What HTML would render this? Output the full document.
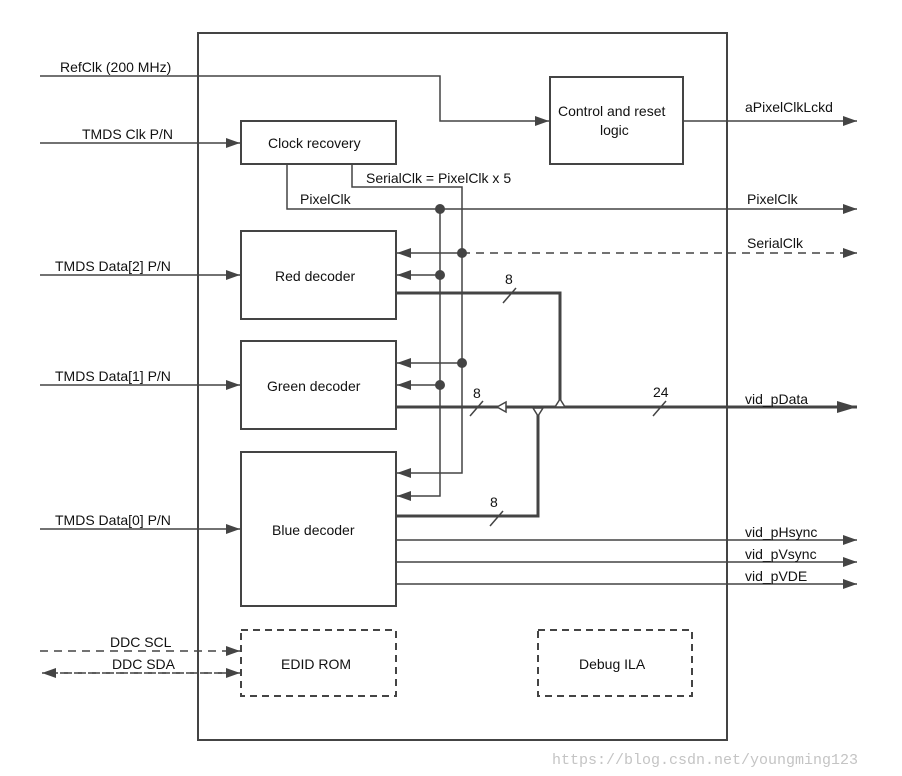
<!DOCTYPE html>
<html><head><meta charset="utf-8"><style>
html,body{margin:0;padding:0;background:#fff}
svg{display:block}
text{font-family:"Liberation Sans",Arial,sans-serif;font-size:14px;fill:#111}
</style></head><body>
<svg width="902" height="776" viewBox="0 0 902 776" xmlns="http://www.w3.org/2000/svg">
<defs>
<marker id="a" markerWidth="14" markerHeight="10" refX="14" refY="5" orient="auto" markerUnits="userSpaceOnUse"><path d="M0,0 L14,5 L0,10 z" fill="#444"/></marker>
<marker id="ab" markerWidth="20" markerHeight="12" refX="20" refY="6" orient="auto" markerUnits="userSpaceOnUse"><path d="M0,0 L20,6 L0,12 z" fill="#444"/></marker>
</defs>
<g fill="none" stroke="#444" stroke-width="1.5">
<rect x="198" y="33" width="529" height="707" stroke-width="2"/>
<rect x="241" y="121" width="155" height="43" stroke-width="2"/>
<rect x="550" y="77" width="133" height="87" stroke-width="2"/>
<rect x="241" y="231" width="155" height="88" stroke-width="2"/>
<rect x="241" y="341" width="155" height="88" stroke-width="2"/>
<rect x="241" y="452" width="155" height="154" stroke-width="2"/>
<rect x="241" y="630" width="155" height="66" stroke-width="2" stroke-dasharray="7,5"/>
<rect x="538" y="630" width="154" height="66" stroke-width="2" stroke-dasharray="7,5"/>
<path d="M40,76 H440 V121 H549" marker-end="url(#a)"/>
<path d="M40,143 H240" marker-end="url(#a)"/>
<path d="M40,275 H240" marker-end="url(#a)"/>
<path d="M40,385 H240" marker-end="url(#a)"/>
<path d="M40,529 H240" marker-end="url(#a)"/>
<path d="M40,651 H240" stroke-dasharray="8,6" marker-end="url(#a)"/>
<path d="M240,673 H42" stroke-dasharray="8,6" marker-end="url(#a)"/>
<path d="M60,673 H240" stroke-dasharray="8,6" marker-end="url(#a)"/>
<path d="M683,121 H857" marker-end="url(#a)"/>
<path d="M287,164 V209 H857" marker-end="url(#a)"/>
<path d="M462,253 H857" stroke-dasharray="8,6" marker-end="url(#a)"/>
<path d="M396,540 H857" marker-end="url(#a)"/>
<path d="M396,562 H857" marker-end="url(#a)"/>
<path d="M396,584 H857" marker-end="url(#a)"/>
<path d="M352,164 V187 H462 V473 H397" marker-end="url(#a)"/>
<path d="M440,209 V496 H397" marker-end="url(#a)"/>
<path d="M462,253 H397" marker-end="url(#a)"/>
<path d="M440,275 H397" marker-end="url(#a)"/>
<path d="M462,363 H397" marker-end="url(#a)"/>
<path d="M440,385 H397" marker-end="url(#a)"/>
<g stroke-width="3">
<path d="M396,293 H560 V407"/>
<path d="M396,516 H538 V407"/>
<path d="M396,407 H857" marker-end="url(#ab)"/>
</g>
<path d="M503,303 L516,288"/>
<path d="M470,416 L483,401"/>
<path d="M490,526 L503,511"/>
<path d="M653,416 L666,401"/>
</g>
<g fill="#fff" stroke="#444" stroke-width="1.5">
<path d="M497,407 L506,402 L506,412 z"/>
<path d="M533,408 L543,408 L538,416 z"/>
<path d="M555,407 L565,407 L560,399 z"/>
</g>
<g fill="#444">
<circle cx="440" cy="209" r="5"/>
<circle cx="462" cy="253" r="5"/>
<circle cx="440" cy="275" r="5"/>
<circle cx="462" cy="363" r="5"/>
<circle cx="440" cy="385" r="5"/>
</g>
<text x="60" y="72">RefClk (200 MHz)</text>
<text x="82" y="139">TMDS Clk P/N</text>
<text x="55" y="271">TMDS Data[2] P/N</text>
<text x="55" y="381">TMDS Data[1] P/N</text>
<text x="55" y="525">TMDS Data[0] P/N</text>
<text x="110" y="647">DDC SCL</text>
<text x="112" y="669">DDC SDA</text>
<text x="268" y="148">Clock recovery</text>
<text x="558" y="116">Control and reset</text>
<text x="600" y="135">logic</text>
<text x="275" y="281">Red decoder</text>
<text x="267" y="391">Green decoder</text>
<text x="272" y="535">Blue decoder</text>
<text x="281" y="669">EDID ROM</text>
<text x="579" y="669">Debug ILA</text>
<text x="366" y="183">SerialClk = PixelClk x 5</text>
<text x="300" y="204">PixelClk</text>
<text x="745" y="112">aPixelClkLckd</text>
<text x="747" y="204">PixelClk</text>
<text x="747" y="248">SerialClk</text>
<text x="745" y="404">vid_pData</text>
<text x="745" y="537">vid_pHsync</text>
<text x="745" y="559">vid_pVsync</text>
<text x="745" y="581">vid_pVDE</text>
<text x="505" y="284">8</text>
<text x="473" y="398">8</text>
<text x="490" y="507">8</text>
<text x="653" y="397">24</text>
<text x="552" y="764" style="font-family:'Liberation Mono',monospace;font-size:15px;fill:#c4c4c4">https://blog.csdn.net/youngming123</text>
</svg>
</body></html>
